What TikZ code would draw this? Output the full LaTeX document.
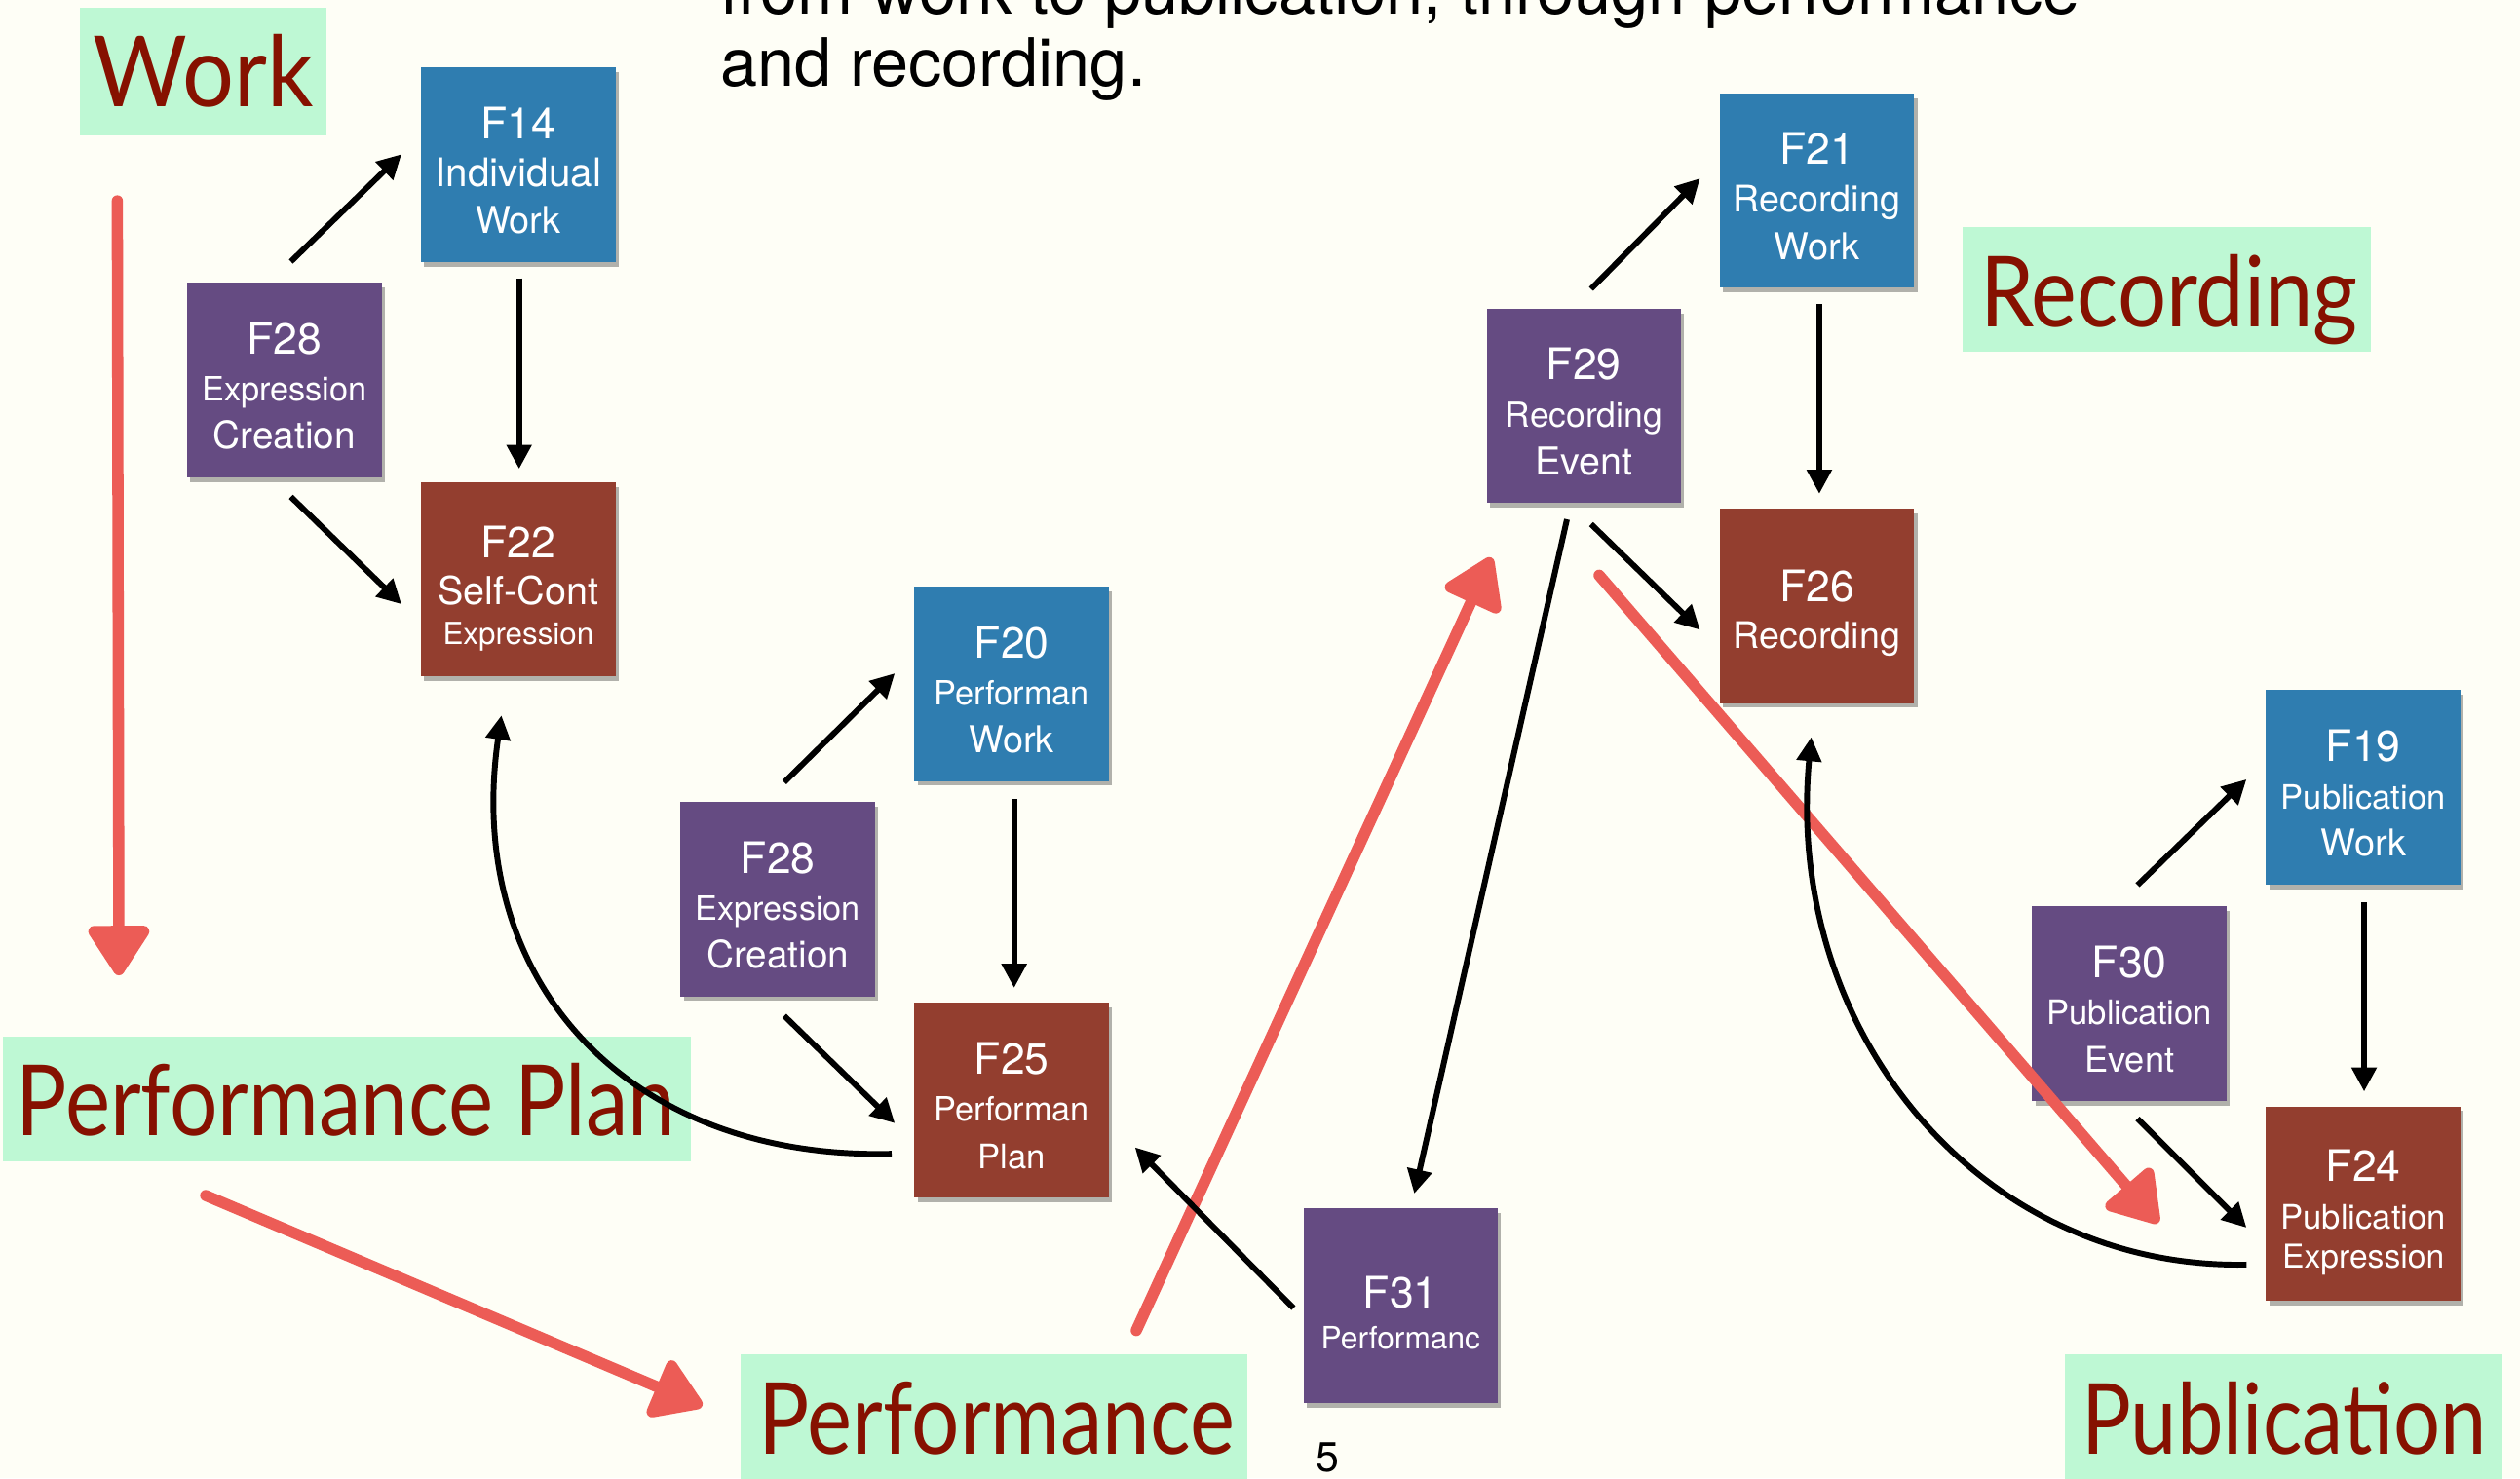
\documentclass[tikz,border=0pt]{standalone}
\usepackage{fontspec}
\setmainfont{TeX Gyre Heros}
\newfontfamily\lblfont{Lato}
\usepackage{graphicx}
\usetikzlibrary{arrows.meta,calc,shadows}
\definecolor{bg}{HTML}{FEFEF6}
\definecolor{fblue}{HTML}{2F7DB0}
\definecolor{fpurple}{HTML}{654B82}
\definecolor{fbrown}{HTML}{933E2F}
\definecolor{lgreen}{HTML}{BEF8D4}
\definecolor{ltext}{HTML}{861100}
\definecolor{chalk}{HTML}{EC5C56}
% three-line box text
\newcommand{\fbx}[5]{{\fontsize{27}{29.5}\selectfont\rule{0pt}{27pt}#1}\\{\fontsize{#2}{29.5}\selectfont #3}\\{\fontsize{#4}{29.5}\selectfont #5}}
% three-line box text ending in a smaller word with descender
\newcommand{\fbxe}[5]{{\fontsize{27}{29.5}\selectfont\rule{0pt}{31pt}#1}\\{\fontsize{#2}{29.5}\selectfont #3}\\[-5pt]{\fontsize{#4}{29.5}\selectfont #5}}
% two-line box text: title, extra skip, size, word
\newcommand{\fbxii}[4]{{\fontsize{27}{29.5}\selectfont\rule{0pt}{29pt}#1}\\[#2]{\fontsize{#3}{29.5}\selectfont #4}}
\tikzset{
  fbox/.style={minimum width=121pt,minimum height=121pt,inner sep=0pt,text=white,align=center,
    font=\fontsize{24}{29.5}\selectfont,
    drop shadow={shadow xshift=2pt,shadow yshift=-3pt,opacity=0.3,fill=black}},
  wrk/.style={fbox,fill=fblue},
  evt/.style={fbox,fill=fpurple},
  expr/.style={fbox,fill=fbrown},
  arr/.style={line width=3.6pt,-{Triangle[length=15pt,width=15pt]}},
  chalkarr/.style={draw=chalk,line width=7pt,line cap=round,-{Triangle[length=34pt,width=42pt,round]}},
  lbl/.style={text=ltext,inner sep=0pt,anchor=base west,font=\lblfont},
  lblbox/.style={fill=lgreen},
  ttl/.style={anchor=base west,inner sep=0pt,font=\fontsize{41.5}{46}\selectfont}
}
\begin{document}
\begin{tikzpicture}[x=1pt,y=-1pt]
\useasboundingbox (0,0) rectangle (1568,920);
\fill[bg] (0,0) rectangle (1568,920);
\clip (0,0) rectangle (1568,920);

% title text
\node[ttl] (title1) at (448,9) {from work to publication, through performance};
\node[ttl] (title2) at (448,53.5) {and recording.};
\node[anchor=base,inner sep=0pt,font=\fontsize{26}{30}\selectfont] (pnum) at (826,916) {5};

% labels
\fill[lblbox] (50,5) rectangle (203,84);
\node[lbl] (lwork) at (58,66.5) {\resizebox{137pt}{45pt}{Work}};
\fill[lblbox] (2,645) rectangle (430,723);
\node[lbl] (lplan) at (10,706.5) {\resizebox{410pt}{45pt}{Performance Plan}};
\fill[lblbox] (461,843) rectangle (776,925);
\node[lbl] (lperf) at (472,905) {\resizebox{296pt}{45pt}{Performance}};
\fill[lblbox] (1221,141) rectangle (1475,219);
\node[lbl] (lrec) at (1232,203.5) {\resizebox{235pt}{45pt}{Recording}};
\fill[lblbox] (1285,843) rectangle (1557,925);
\node[lbl] (lpub) at (1295,905) {\resizebox{252pt}{45pt}{Publication}};

% boxes
\node[wrk]  (f14)  at (322.5,102.5) {\fbx{F14}{24.5}{Individual}{23}{Work}};
\node[evt]  (f28a) at (177,236.5)   {\fbx{F28}{20.8}{Expression}{23.5}{Creation}};
\node[expr] (f22)  at (322.5,360.5) {\fbxe{F22}{24}{Self-Cont}{19}{Expression}};
\node[wrk]  (f20)  at (629.5,425.5) {\fbx{F20}{20.8}{Performan}{23}{Work}};
\node[evt]  (f28b) at (484,559.5)   {\fbx{F28}{20.8}{Expression}{23.5}{Creation}};
\node[expr] (f25)  at (629.5,684.5) {\fbx{F25}{20.8}{Performan}{21}{Plan}};
\node[evt]  (f29)  at (985.5,252.5) {\fbx{F29}{21.5}{Recording}{23.9}{Event}};
\node[wrk]  (f21)  at (1130.5,118.5) {\fbx{F21}{22.8}{Recording}{23}{Work}};
\node[expr] (f26)  at (1130.5,377)  {\fbxii{F26}{0pt}{22.8}{Recording}};
\node[wrk]  (f19)  at (1470.5,490)  {\fbx{F19}{20.9}{Publication}{23}{Work}};
\node[evt]  (f30)  at (1325,624.5)  {\fbx{F30}{21}{Publication}{22}{Event}};
\node[expr] (f24)  at (1470.5,749)  {\fbxe{F24}{21}{Publication}{20.4}{Expression}};
\node[evt]  (f31)  at (871.5,812.5) {\fbxii{F31}{-4pt}{19.2}{Performanc}};

% chalk arrows
\coordinate (c1s) at (73,125);  \coordinate (c1e) at (74,607);
\coordinate (c2s) at (128,744); \coordinate (c2e) at (437,875);
\coordinate (c3s) at (707,828); \coordinate (c3e) at (928,347);
\coordinate (c4s) at (995,358); \coordinate (c4e) at (1343,761);
\draw[chalkarr] (c1s) -- (c1e);
\draw[chalkarr] (c2s) -- (c2e);
\draw[chalkarr] (c3s) -- (c3e);
\draw[chalkarr] (c4s) -- (c4e);

% black arrows
\draw[arr] ($(f28a.north)+(4,-13)$) -- ($(f14.west)+(-12,-6.5)$);
\draw[arr] ($(f14.south)+(0.5,10)$) -- ($(f22.north)+(0.5,-8)$);
\draw[arr] ($(f28a.south)+(4,12)$) -- ($(f22.west)+(-12,15.5)$);
\draw[arr] ($(f28b.north)+(4,-12)$) -- ($(f20.west)+(-12,-6.5)$);
\draw[arr] ($(f20.south)+(1.5,11)$) -- ($(f25.north)+(1.5,-9)$);
\draw[arr] ($(f28b.south)+(4,12)$) -- ($(f25.west)+(-12,14.5)$);
\draw[arr] ($(f29.north)+(4.5,-12)$) -- ($(f21.west)+(-12,-7.5)$);
\draw[arr] ($(f21.south)+(1.5,10)$) -- ($(f26.north)+(1.5,-9)$);
\draw[arr] ($(f29.south)+(4.5,13)$) -- ($(f26.west)+(-12,15)$);
\draw[arr] ($(f30.north)+(5,-13)$) -- ($(f19.west)+(-12,-5)$);
\draw[arr] ($(f19.south)+(0.5,11)$) -- ($(f24.north)+(0.5,-9)$);
\draw[arr] ($(f30.south)+(5,11)$) -- ($(f24.west)+(-12,15)$);
\draw[arr] ($(f29.south)+(-10.5,10)$) -- ($(f31.north)+(8.5,-9)$);
\draw[arr] ($(f31.west)+(-6,1.5)$) -- ($(f25.east)+(16,29.5)$);
\draw[arr] ($(f25.west)+(-14,33.5)$) .. controls (390,722) and (288,610) .. ($(f22.south)+(-10.5,24)$);
\draw[arr] ($(f24.west)+(-12,38)$) .. controls (1230,790) and (1110,640) .. ($(f26.south)+(-3.5,21)$);
\end{tikzpicture}
\end{document}
